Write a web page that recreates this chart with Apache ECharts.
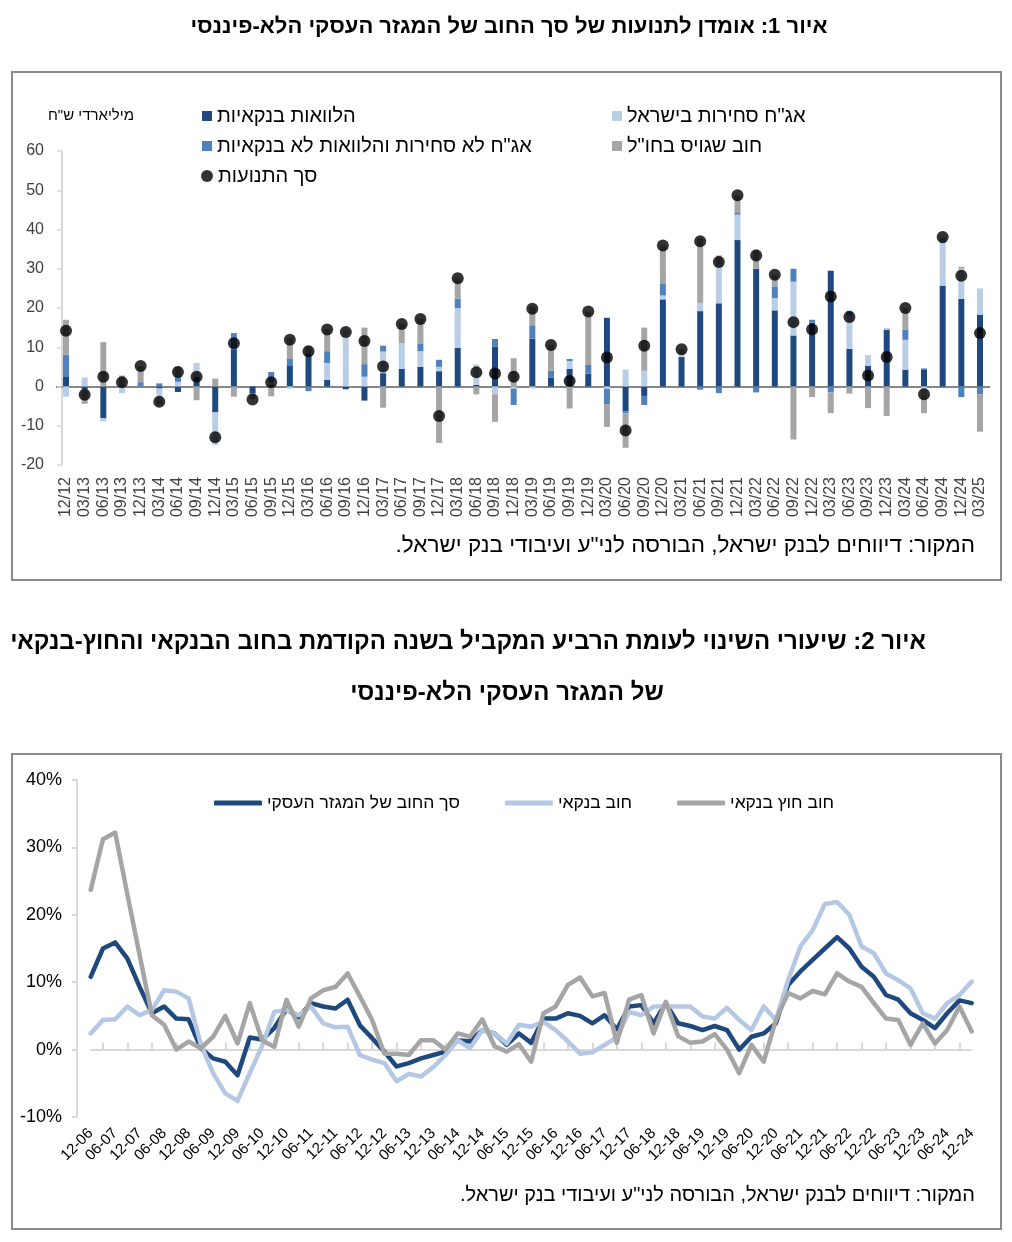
<!DOCTYPE html>
<html><head><meta charset="utf-8">
<script src="https://cdn.jsdelivr.net/npm/echarts@6/dist/echarts.min.js"></script>
<style>html,body{margin:0;padding:0;background:#fff}#c{width:1012px;height:1242px}</style>
</head><body><div id="c"></div>
<script>
// ---------- Figure 1 data (NIS billions, quarterly flows) ----------
const quarters1 = ['12/12','03/13','06/13','09/13','12/13','03/14','06/14','09/14','12/14','03/15','06/15','09/15','12/15','03/16','06/16','09/16','12/16','03/17','06/17','09/17','12/17','03/18','06/18','09/18','12/18','03/19','06/19','09/19','12/19','03/20','06/20','09/20','12/20','03/21','06/21','09/21','12/21','03/22','06/22','09/22','12/22','03/23','06/23','09/23','12/23','03/24','06/24','09/24','12/24','03/25'];
const bankLoans = [2.6,-0.8,-8.1,0.3,0,-0.5,-1.4,2.5,-6.6,9.5,-1.7,0.5,5.4,8.3,1.7,-0.7,-3.6,3.4,4.5,5.0,3.9,9.8,0.4,10.2,0,12.2,2.2,4.5,3.3,17.5,-6.3,-2.4,22.2,7.5,19.2,21.2,37.3,30.0,19.4,13.0,16.3,29.5,9.6,5.3,14.5,4.3,4.2,25.7,22.3,18.3];
const tradableBonds = [-2.6,2.3,-0.8,-1.7,0,-3.0,1.2,3.5,-8.3,0,0,0.6,-0.5,0,4.3,14.6,2.5,5.5,6.5,4.0,1.1,10.2,5.2,-2.0,-0.5,-0.5,0,2.0,0,-0.6,4.3,4.0,1.0,0.5,2.1,9.6,6.5,0,3.1,13.7,0,0,8.5,2.7,0.4,7.6,-2.5,10.8,7.7,6.7];
const nonTradable = [5.5,0,0,0,1.1,0.8,1.4,0,0,4.1,-0.6,2.6,1.6,-1.2,3.0,0,3.2,1.5,0,2.0,1.8,2.4,0,1.9,-4.2,3.4,1.8,0.5,2.2,-3.9,-0.5,-2.3,2.9,0,-0.8,-1.7,0.4,-1.5,3.0,3.3,0.7,-1.5,1.2,0,0,2.6,0.4,0.5,-2.7,-2.0];
const abroadDebt = [8.9,-3.6,11.3,2.5,4.1,-1.2,2.5,-3.5,2.0,-2.6,-1.0,-2.5,5.4,1.9,5.6,0,9.3,-5.4,5.0,6.2,-14.4,5.1,-2.0,-7.0,7.2,4.7,6.6,-5.6,13.6,-5.8,-8.8,11.0,9.8,1.5,16.5,2.6,4.5,4.9,3.0,-13.5,-2.7,-5.3,-1.8,-5.5,-7.5,5.5,-4.3,1.0,0.5,-9.5];
const totalFlows = [14.2,-2.1,2.5,1.1,5.2,-3.9,3.7,2.5,-12.9,11.0,-3.3,1.1,11.9,9.0,14.5,13.9,11.6,5.1,15.9,17.2,-7.5,27.6,3.6,3.3,2.5,19.8,10.6,1.4,19.1,7.4,-11.2,10.4,35.9,9.5,37.0,31.7,48.7,33.4,28.5,16.4,14.5,22.9,17.7,2.8,7.5,20.0,-2.0,38.1,28.2,13.6];

// ---------- Figure 2 data (% change vs same quarter previous year) ----------
const quarters2 = ['12-06','03-07','06-07','09-07','12-07','03-08','06-08','09-08','12-08','03-09','06-09','09-09','12-09','03-10','06-10','09-10','12-10','03-11','06-11','09-11','12-11','03-12','06-12','09-12','12-12','03-13','06-13','09-13','12-13','03-14','06-14','09-14','12-14','03-15','06-15','09-15','12-15','03-16','06-16','09-16','12-16','03-17','06-17','09-17','12-17','03-18','06-18','09-18','12-18','03-19','06-19','09-19','12-19','03-20','06-20','09-20','12-20','03-21','06-21','09-21','12-21','03-22','06-22','09-22','12-22','03-23','06-23','09-23','12-23','03-24','06-24','09-24','12-24'];
const totalGrowth = [10.8,15.0,15.9,13.5,9.3,5.4,6.4,4.6,4.5,0.2,-1.3,-1.8,-3.8,1.8,1.5,3.2,6.0,4.8,6.9,6.4,6.1,7.4,3.6,1.7,-0.3,-2.5,-2.0,-1.3,-0.8,-0.3,1.4,1.2,2.9,2.4,0.7,2.4,1.0,4.6,4.6,5.4,5.0,3.9,5.1,3.0,6.4,6.6,3.9,6.9,3.9,3.5,2.9,3.5,2.9,0.0,1.9,2.4,3.9,9.6,11.6,13.3,15.0,16.7,15.0,12.3,10.8,8.1,7.4,5.4,4.4,3.2,5.4,7.3,6.9];
const bankGrowth = [2.4,4.4,4.5,6.4,5.1,5.9,8.8,8.6,7.6,0.8,-3.5,-6.5,-7.6,-3.5,0.5,5.6,5.9,5.1,6.4,3.9,3.3,3.4,-0.8,-1.5,-2.0,-4.7,-3.6,-4.0,-2.6,-0.8,1.4,0.2,2.9,2.4,0.9,3.7,3.4,4.1,2.9,1.2,-0.6,-0.4,0.7,1.8,5.6,5.1,6.4,6.4,6.4,6.4,4.9,4.6,6.2,4.4,2.9,6.4,4.4,10.3,15.3,17.7,21.6,21.9,20.0,15.3,14.3,11.3,10.3,9.1,5.4,4.6,6.9,8.1,10.1];
const nonBankGrowth = [23.7,31.2,32.2,23.0,14.0,5.1,3.7,0.0,1.2,0.2,1.9,5.0,0.9,6.9,1.4,0.4,7.4,3.4,7.6,8.8,9.3,11.3,7.9,4.4,-0.6,-0.6,-0.8,1.4,1.4,0.0,2.4,1.9,4.5,0.5,-0.3,0.8,-1.8,5.4,6.4,9.6,10.7,7.9,8.4,1.0,7.4,8.1,2.4,7.1,2.0,1.0,1.2,2.3,0.0,-3.5,0.7,-1.8,4.4,8.4,7.6,8.7,8.2,11.3,10.1,9.3,6.9,4.6,4.4,0.7,3.9,0.9,2.9,6.4,2.7];

const RLE = '\u202B', PDF = '\u202C';
const rtl = s => RLE + s + PDF;
const FONT = "'Liberation Sans', Arial, sans-serif";
const NARROW = "'Liberation Sans Narrow', 'Liberation Sans', Arial, sans-serif";

const C_DARK = '#1f497d', C_LIGHT = '#b9cde5', C_MED = '#4f81bd', C_GRAY = '#a5a5a5';

const N1 = 'הלוואות בנקאיות';
const N2 = 'אג"ח סחירות בישראל';
const N3 = 'אג"ח לא סחירות והלוואות לא בנקאיות';
const N4 = 'חוב שגויס בחו"ל';
const N5 = 'סך התנועות';
const L1 = 'סך החוב של המגזר העסקי';
const L2 = 'חוב בנקאי';
const L3 = 'חוב חוץ בנקאי';

function leg1(name, left, cy, icon, size) {
  return {
    data: [{ name: name, icon: icon }], left: left, top: cy - 10, padding: 0,
    itemWidth: size, itemHeight: size, selectedMode: false,
    textStyle: { fontFamily: FONT, fontSize: 20, color: '#000', lineHeight: 20 },
    formatter: n => rtl(n)
  };
}

const chart = echarts.init(document.getElementById('c'), null, { renderer: 'canvas' });
const option = {
  animation: false,
  backgroundColor: '#fff',
  grid: [
    { left: 56.7, right: 22.7, top: 151, bottom: 1242 - 465, containLabel: false, outerBoundsMode: 'none' },
    { left: 90.7, right: 40.3, top: 780, bottom: 1242 - 1117, containLabel: false, outerBoundsMode: 'none' }
  ],
  legend: [
    leg1(N1, 202, 116, 'rect', 10),
    leg1(N3, 202, 146, 'rect', 10),
    leg1(N5, 201, 176, 'circle', 12),
    leg1(N2, 612, 116, 'rect', 10),
    leg1(N4, 612, 146, 'rect', 10),
    {
      data: [L1, L2, L3].map(n => ({ name: n, icon: 'roundRect' })),
      left: 214, top: 794, padding: 0, orient: 'horizontal',
      itemWidth: 48, itemHeight: 5, itemGap: 45, selectedMode: false,
      textStyle: { fontFamily: FONT, fontSize: 17.5, color: '#000', lineHeight: 18 },
      formatter: n => rtl(n)
    }
  ],
  xAxis: [
    { // fig 1 labels
      type: 'category', data: quarters1, gridIndex: 0, position: 'bottom',
      axisLine: { show: false, onZero: false }, axisTick: { show: false },
      axisLabel: { rotate: 90, interval: 0, margin: 12, fontFamily: FONT, fontSize: 16, color: '#404040' },
      splitLine: { show: false }
    },
    { // fig 1 zero line
      type: 'category', data: quarters1, gridIndex: 0,
      axisLine: { show: true, onZero: true, lineStyle: { color: '#878787', width: 2 } },
      axisTick: { show: true, alignWithLabel: true, length: 5, lineStyle: { color: '#878787', width: 1.5 } },
      axisLabel: { show: false }, splitLine: { show: false }
    },
    { // fig 2 labels
      type: 'category', data: quarters2, gridIndex: 1, boundaryGap: false, position: 'bottom',
      axisLine: { show: false, onZero: false }, axisTick: { show: false },
      axisLabel: { rotate: 45, interval: 1, margin: 14, fontFamily: FONT, fontSize: 15, color: '#000' },
      splitLine: { show: false }
    },
    { // fig 2 zero line
      type: 'category', data: quarters2, gridIndex: 1, boundaryGap: false,
      axisLine: { show: true, onZero: true, lineStyle: { color: '#d9d9d9', width: 2 } },
      axisTick: { show: true, interval: i => i % 2 === 1, length: 7, lineStyle: { color: '#d9d9d9', width: 2 } },
      axisLabel: { show: false }, splitLine: { show: false }
    }
  ],
  yAxis: [
    {
      type: 'value', gridIndex: 0, min: -20, max: 60, interval: 10, offset: -5.3,
      axisLine: { show: true, lineStyle: { color: '#d9d9d9', width: 2 } },
      axisTick: { show: true, length: 5, lineStyle: { color: '#d9d9d9', width: 1.5 } },
      axisLabel: { margin: 18, fontFamily: FONT, fontSize: 16, color: '#404040' },
      splitLine: { show: false }
    },
    {
      type: 'value', gridIndex: 1, min: -10, max: 40, interval: 10, offset: 13.7,
      axisLine: { show: true, lineStyle: { color: '#d9d9d9', width: 2 } },
      axisTick: { show: true, length: 5, lineStyle: { color: '#d9d9d9', width: 2 } },
      axisLabel: { margin: 15, fontFamily: FONT, fontSize: 18, color: '#000', formatter: '{value}%' },
      splitLine: { show: false }
    }
  ],
  series: [
    { name: N1, type: 'bar', stack: 'f', xAxisIndex: 0, yAxisIndex: 0, barWidth: 6, data: bankLoans, itemStyle: { color: C_DARK } },
    { name: N2, type: 'bar', stack: 'f', xAxisIndex: 0, yAxisIndex: 0, barWidth: 6, data: tradableBonds, itemStyle: { color: C_LIGHT } },
    { name: N3, type: 'bar', stack: 'f', xAxisIndex: 0, yAxisIndex: 0, barWidth: 6, data: nonTradable, itemStyle: { color: C_MED } },
    { name: N4, type: 'bar', stack: 'f', xAxisIndex: 0, yAxisIndex: 0, barWidth: 6, data: abroadDebt, itemStyle: { color: C_GRAY } },
    { name: N5, type: 'scatter', xAxisIndex: 0, yAxisIndex: 0, symbol: 'circle', symbolSize: 12, z: 5, data: totalFlows, itemStyle: { color: '#000' } },
    { name: L1, type: 'line', xAxisIndex: 2, yAxisIndex: 1, data: totalGrowth, symbol: 'none', color: C_DARK,
      lineStyle: { color: C_DARK, width: 4.5, cap: 'round', join: 'round' } },
    { name: L2, type: 'line', xAxisIndex: 2, yAxisIndex: 1, data: bankGrowth, symbol: 'none', color: '#b4c8e4',
      lineStyle: { color: '#b4c8e4', width: 4.5, cap: 'round', join: 'round' } },
    { name: L3, type: 'line', xAxisIndex: 2, yAxisIndex: 1, data: nonBankGrowth, symbol: 'none', color: C_GRAY,
      lineStyle: { color: C_GRAY, width: 4.5, cap: 'round', join: 'round' } }
  ],
  graphic: [
    { type: 'rect', silent: true, z: -1, shape: { x: 12, y: 72, width: 989, height: 508 }, style: { fill: 'none', stroke: '#8a8a8a', lineWidth: 2 } },
    { type: 'rect', silent: true, z: -1, shape: { x: 12, y: 754, width: 989, height: 475 }, style: { fill: 'none', stroke: '#8a8a8a', lineWidth: 2 } },
    { type: 'text', silent: true, style: { text: rtl('איור 1: אומדן לתנועות של סך החוב של המגזר העסקי הלא-פיננסי'), x: 509, y: 27, align: 'center', verticalAlign: 'middle', font: 'bold 22px ' + NARROW, fill: '#000' } },
    { type: 'text', silent: true, style: { text: rtl('מיליארדי ש"ח'), x: 134, y: 116, align: 'right', verticalAlign: 'middle', font: '15px ' + FONT, fill: '#000' } },
    { type: 'text', silent: true, style: { text: rtl('המקור: דיווחים לבנק ישראל, הבורסה לני"ע ועיבודי בנק ישראל.'), x: 975, y: 546, align: 'right', verticalAlign: 'middle', font: '22.5px ' + FONT, fill: '#000' } },
    { type: 'text', silent: true, style: { text: rtl('איור 2: שיעורי השינוי לעומת הרביע המקביל בשנה הקודמת בחוב הבנקאי והחוץ-בנקאי'), x: 468, y: 642, align: 'center', verticalAlign: 'middle', font: 'bold 24px ' + NARROW, fill: '#000' } },
    { type: 'text', silent: true, style: { text: rtl('של המגזר העסקי הלא-פיננסי'), x: 507, y: 693, align: 'center', verticalAlign: 'middle', font: 'bold 24px ' + NARROW, fill: '#000' } },
    { type: 'text', silent: true, style: { text: rtl('המקור: דיווחים לבנק ישראל, הבורסה לני"ע ועיבודי בנק ישראל.'), x: 975, y: 1195, align: 'right', verticalAlign: 'middle', font: '20px ' + FONT, fill: '#000' } }
  ]
};
chart.setOption(option);
</script>
</body></html>
